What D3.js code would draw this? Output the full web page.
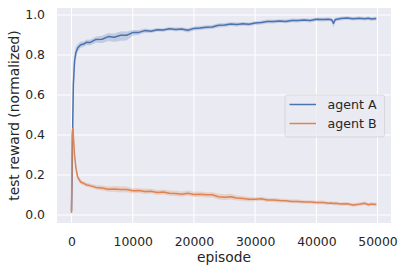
<!DOCTYPE html>
<html>
<head>
<meta charset="utf-8">
<script src="https://cdn.jsdelivr.net/npm/d3@7"></script>
<style>
  body { margin: 0; background: #fff; }
  text { font-family: "DejaVu Sans", sans-serif; fill: #262626; }
</style>
</head>
<body>
<div id="chart"></div>
<script>
// episodes at which the curves were read
const episodes = [0, 100, 200, 300, 500, 700, 1000, 1500, 2000, 2500, 3000, 4000, 5000, 6000, 7000, 8000, 9000,
  10000, 11000, 12000, 13000, 14000, 15000, 16000, 17000, 18000, 19000, 20000, 21000, 22000, 23000, 24000,
  25000, 26000, 27000, 28000, 29000, 30000, 31000, 32000, 33000, 34000, 35000, 36000, 37000, 38000, 39000,
  40000, 41000, 42000, 42500, 42800, 43100, 44000, 45000, 46000, 47000, 47900, 48500, 49000, 49800];

const agentA = [0.02, 0.2, 0.45, 0.65, 0.77, 0.81, 0.835, 0.851, 0.855, 0.864, 0.862, 0.878, 0.879, 0.892, 0.889, 0.899, 0.899,
  0.912, 0.913, 0.922, 0.919, 0.926, 0.925, 0.931, 0.928, 0.93, 0.924, 0.933, 0.935, 0.939, 0.94, 0.949,
  0.95, 0.955, 0.953, 0.956, 0.954, 0.96, 0.962, 0.968, 0.967, 0.97, 0.968, 0.973, 0.972, 0.975, 0.972,
  0.979, 0.977, 0.979, 0.976, 0.958, 0.977, 0.982, 0.985, 0.981, 0.984, 0.981, 0.984, 0.98, 0.982];
const agentALow = [0.0, 0.1, 0.35, 0.58, 0.73, 0.78, 0.815, 0.836, 0.841, 0.85, 0.847, 0.861, 0.86, 0.87, 0.865, 0.871, 0.872,
  0.896, 0.901, 0.911, 0.91, 0.917, 0.916, 0.922, 0.919, 0.92, 0.913, 0.923, 0.925, 0.929, 0.93, 0.938,
  0.94, 0.945, 0.943, 0.946, 0.944, 0.95, 0.953, 0.959, 0.958, 0.961, 0.959, 0.964, 0.963, 0.966, 0.963,
  0.97, 0.968, 0.97, 0.967, 0.938, 0.968, 0.973, 0.976, 0.972, 0.975, 0.972, 0.975, 0.971, 0.973];
const agentAHigh = [0.04, 0.3, 0.55, 0.72, 0.81, 0.84, 0.855, 0.866, 0.869, 0.878, 0.876, 0.893, 0.896, 0.909, 0.908, 0.917, 0.917,
  0.925, 0.925, 0.932, 0.929, 0.935, 0.934, 0.94, 0.937, 0.939, 0.934, 0.942, 0.945, 0.949, 0.95, 0.959,
  0.96, 0.964, 0.962, 0.965, 0.963, 0.969, 0.971, 0.977, 0.976, 0.979, 0.977, 0.982, 0.981, 0.984, 0.981,
  0.988, 0.986, 0.988, 0.985, 0.975, 0.986, 0.991, 0.994, 0.99, 0.993, 0.99, 0.993, 0.989, 0.991];

const agentB = [0.01, 0.4, 0.433, 0.4, 0.3, 0.24, 0.19, 0.165, 0.158, 0.15, 0.147, 0.138, 0.135, 0.129, 0.13, 0.127, 0.128,
  0.121, 0.122, 0.118, 0.119, 0.112, 0.115, 0.109, 0.108, 0.104, 0.109, 0.103, 0.104, 0.101, 0.101, 0.091,
  0.089, 0.091, 0.085, 0.083, 0.079, 0.079, 0.081, 0.075, 0.075, 0.072, 0.071, 0.068, 0.068, 0.065, 0.065,
  0.062, 0.063, 0.059, 0.06, 0.057, 0.059, 0.055, 0.056, 0.05, 0.054, 0.059, 0.051, 0.055, 0.052];
const agentBLow = [0.0, 0.3, 0.4, 0.37, 0.28, 0.225, 0.178, 0.155, 0.148, 0.14, 0.137, 0.127, 0.123, 0.116, 0.116, 0.112, 0.114,
  0.109, 0.11, 0.105, 0.107, 0.1, 0.102, 0.096, 0.095, 0.091, 0.096, 0.09, 0.091, 0.088, 0.088, 0.077,
  0.075, 0.077, 0.072, 0.071, 0.068, 0.069, 0.071, 0.065, 0.065, 0.062, 0.062, 0.059, 0.059, 0.056, 0.056,
  0.053, 0.054, 0.05, 0.051, 0.048, 0.05, 0.046, 0.047, 0.041, 0.045, 0.05, 0.042, 0.046, 0.043];
const agentBHigh = [0.03, 0.44, 0.45, 0.43, 0.32, 0.255, 0.202, 0.176, 0.168, 0.161, 0.158, 0.15, 0.148, 0.143, 0.145, 0.143, 0.143,
  0.134, 0.134, 0.131, 0.131, 0.125, 0.128, 0.122, 0.121, 0.117, 0.122, 0.116, 0.117, 0.114, 0.114, 0.106,
  0.104, 0.106, 0.098, 0.095, 0.09, 0.089, 0.091, 0.085, 0.085, 0.082, 0.08, 0.077, 0.077, 0.074, 0.074,
  0.071, 0.072, 0.068, 0.069, 0.066, 0.068, 0.064, 0.065, 0.059, 0.063, 0.068, 0.06, 0.064, 0.061];

const xTicks = [0, 10000, 20000, 30000, 40000, 50000];
const yTicks = [0.0, 0.2, 0.4, 0.6, 0.8, 1.0];
const seriesNames = ["agent A", "agent B"];

const width = 404, height = 272;
const margin = { left: 57, right: 13, top: 8, bottom: 49 };
const colors = ["#4c72b0", "#dd8452"];

const svg = d3.select("#chart")
  .append("svg")
  .attr("width", width)
  .attr("height", height);

const x = d3.scaleLinear()
  .domain([-2370, 52200])
  .range([margin.left, width - margin.right]);
const y = d3.scaleLinear()
  .domain([-0.04, 1.035])
  .range([height - margin.bottom, margin.top]);

// background
svg.append("rect")
  .attr("x", margin.left)
  .attr("y", margin.top)
  .attr("width", width - margin.left - margin.right)
  .attr("height", height - margin.top - margin.bottom)
  .attr("fill", "#eaeaf2");

svg.append("defs").append("clipPath")
  .attr("id", "plot-clip")
  .append("rect")
  .attr("x", margin.left)
  .attr("y", margin.top)
  .attr("width", width - margin.left - margin.right)
  .attr("height", height - margin.top - margin.bottom);

// grid
svg.append("g")
  .selectAll("line")
  .data(xTicks)
  .enter()
  .append("line")
  .attr("x1", d => x(d)).attr("x2", d => x(d))
  .attr("y1", margin.top).attr("y2", height - margin.bottom)
  .attr("stroke", "#fff").attr("stroke-width", 1.1);
svg.append("g")
  .selectAll("line")
  .data(yTicks)
  .enter()
  .append("line")
  .attr("y1", d => y(d)).attr("y2", d => y(d))
  .attr("x1", margin.left).attr("x2", width - margin.right)
  .attr("stroke", "#fff").attr("stroke-width", 1.1);

// axes (no spines, no tick marks)
const xAxis = svg.append("g")
  .attr("transform", `translate(0, ${height - margin.bottom})`)
  .call(d3.axisBottom(x).tickValues(xTicks).tickFormat(d3.format("d")).tickSize(0).tickPadding(14));
const yAxis = svg.append("g")
  .attr("transform", `translate(${margin.left}, 0)`)
  .call(d3.axisLeft(y).tickValues(yTicks).tickFormat(d3.format(".1f")).tickSize(0).tickPadding(12));
[xAxis, yAxis].forEach(a => {
  a.select(".domain").remove();
  a.selectAll("text")
    .style("font-family", "DejaVu Sans")
    .style("font-size", "12.4px")
    .attr("fill", "#262626");
});

// axis labels
svg.append("text")
  .attr("x", (margin.left + width - margin.right) / 2)
  .attr("y", 262)
  .attr("text-anchor", "middle")
  .style("font-size", "13.8px")
  .text("episode");
svg.append("text")
  .attr("transform", `translate(19, ${(margin.top + height - margin.bottom) / 2}) rotate(-90)`)
  .attr("text-anchor", "middle")
  .style("font-size", "13.8px")
  .text("test reward (normalized)");

// series
const series = [
  { mean: agentA, low: agentALow, high: agentAHigh },
  { mean: agentB, low: agentBLow, high: agentBHigh }
];

const plot = svg.append("g").attr("clip-path", "url(#plot-clip)");

const band = d3.area()
  .x((d, i) => x(episodes[i]))
  .y0(d => y(d.low))
  .y1(d => y(d.high));
const line = d3.line()
  .x((d, i) => x(episodes[i]))
  .y(d => y(d));

series.forEach((s, k) => {
  const rows = s.mean.map((m, i) => ({ low: s.low[i], high: s.high[i] }));
  plot.append("path")
    .datum(rows)
    .attr("d", band)
    .attr("fill", colors[k])
    .attr("fill-opacity", 0.25);
});
series.forEach((s, k) => {
  plot.append("path")
    .datum(s.mean)
    .attr("d", line)
    .attr("fill", "none")
    .attr("stroke", colors[k])
    .attr("stroke-width", 1.5)
    .attr("stroke-linejoin", "round");
});

// legend
const legend = svg.append("g").attr("transform", "translate(285, 95)");
legend.append("rect")
  .attr("width", 99.5)
  .attr("height", 42)
  .attr("rx", 2.5)
  .attr("fill", "#eaeaf2")
  .attr("fill-opacity", 0.8)
  .attr("stroke", "#cccccc")
  .attr("stroke-opacity", 0.8)
  .attr("stroke-width", 0.8);
seriesNames.forEach((name, k) => {
  legend.append("line")
    .attr("x1", 4.5).attr("x2", 31)
    .attr("y1", 9.5 + k * 19).attr("y2", 9.5 + k * 19)
    .attr("stroke", colors[k])
    .attr("stroke-width", 1.5);
  legend.append("text")
    .attr("x", 42.5)
    .attr("y", 14 + k * 19)
    .style("font-size", "12.6px")
    .text(name);
});
</script>
</body>
</html>
